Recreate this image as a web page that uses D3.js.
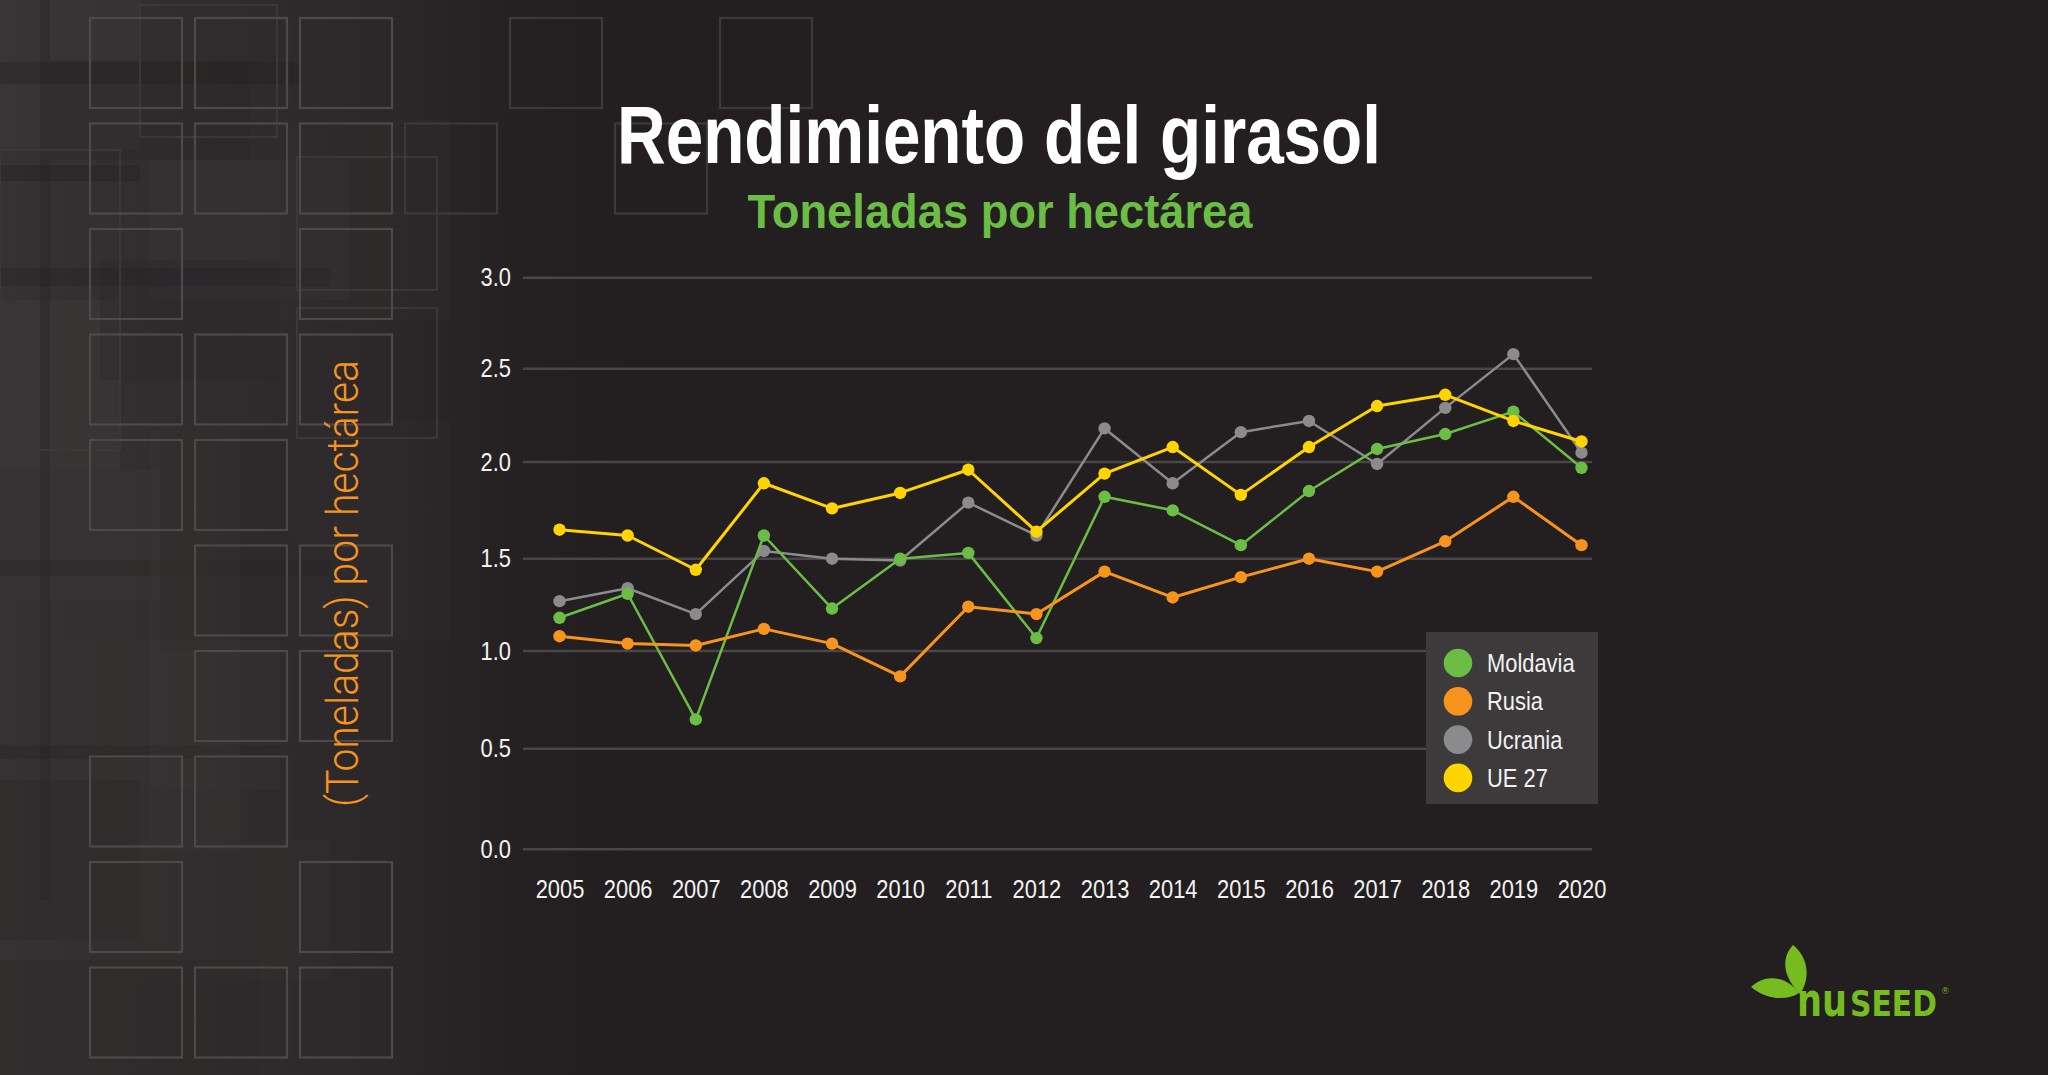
<!DOCTYPE html>
<html>
<head>
<meta charset="utf-8">
<script src="https://cdn.jsdelivr.net/npm/d3@7"></script>
<style>
  html, body { margin: 0; padding: 0; background: #231f20; }
  svg { display: block; }
</style>
</head>
<body>
<svg id="chart" width="2048" height="1075"></svg>
<script>
// ---------------- DATA ----------------
const years = [2005, 2006, 2007, 2008, 2009, 2010, 2011, 2012, 2013, 2014, 2015, 2016, 2017, 2018, 2019, 2020];
const moldavia = [1.18, 1.31, 0.65, 1.62, 1.23, 1.50, 1.53, 1.07, 1.82, 1.75, 1.57, 1.85, 2.07, 2.15, 2.27, 1.97];
const rusia    = [1.08, 1.04, 1.03, 1.12, 1.04, 0.87, 1.24, 1.20, 1.43, 1.29, 1.40, 1.50, 1.43, 1.59, 1.82, 1.57];
const ucrania  = [1.27, 1.34, 1.20, 1.54, 1.50, 1.49, 1.79, 1.62, 2.18, 1.89, 2.16, 2.22, 1.99, 2.29, 2.58, 2.05];
const ue27     = [1.65, 1.62, 1.44, 1.89, 1.76, 1.84, 1.96, 1.64, 1.94, 2.08, 1.83, 2.08, 2.30, 2.36, 2.22, 2.11];
const seriesNames = ["Moldavia", "Rusia", "Ucrania", "UE 27"];
const yTicks = [0, 0.5, 1.0, 1.5, 2.0, 2.5, 3.0];
const titleText = "Rendimiento del girasol";
const subtitleText = "Toneladas por hectárea";
const yAxisTitle = "(Toneladas) por hectárea";

// ---------------- STYLE ----------------
const colors = { "Moldavia": "#6cbd45", "Rusia": "#f7941d", "Ucrania": "#8b8a8d", "UE 27": "#ffd400" };
const widths = { "Moldavia": 2.5, "Rusia": 3, "Ucrania": 2.5, "UE 27": 3 };
const FONT = "'Liberation Sans', Arial, sans-serif";

const svg = d3.select("#chart");
const W = 2048, H = 1075;

function condense(sel, factor) {
  sel.each(function () {
    const w = this.getComputedTextLength();
    this.setAttribute("textLength", w * factor);
    this.setAttribute("lengthAdjust", "spacingAndGlyphs");
  });
}
function fitWidth(sel, width) {
  sel.attr("textLength", width).attr("lengthAdjust", "spacingAndGlyphs");
}
// horizontally scale a text (placed at 0,0 inside group g) so its width equals target
function scaleToWidth(g, textSel, tx, ty, width) {
  const w = textSel.node().getComputedTextLength();
  g.attr("transform", `translate(${tx},${ty}) scale(${width / w},1)`);
}

// ---------------- BACKGROUND ----------------
svg.append("rect").attr("width", W).attr("height", H).attr("fill", "#231f20");

const defs = svg.append("defs");
const grad = defs.append("linearGradient").attr("id", "leftGlow").attr("x1", 0).attr("x2", 1).attr("y1", 0).attr("y2", 0);
grad.append("stop").attr("offset", 0).attr("stop-color", "#363233").attr("stop-opacity", 1);
grad.append("stop").attr("offset", 0.6).attr("stop-color", "#2c2829").attr("stop-opacity", 1);
grad.append("stop").attr("offset", 1).attr("stop-color", "#231f20").attr("stop-opacity", 0);
svg.append("rect").attr("x", 0).attr("y", 0).attr("width", 640).attr("height", H).attr("fill", "url(#leftGlow)");

// mosaic patches (decoration)
const patches = [
  [0, 0, 140, 150, "#3c3839", 0.5], [50, 60, 200, 100, "#2a2627", 0.4], [150, 160, 200, 140, "#3a3637", 0.45],
  [0, 300, 120, 170, "#3d393a", 0.45], [100, 260, 180, 120, "#2a2627", 0.35], [0, 470, 160, 130, "#3a3637", 0.45],
  [160, 430, 130, 220, "#2b2728", 0.4], [60, 640, 220, 150, "#363233", 0.4], [0, 780, 140, 160, "#2c2829", 0.4],
  [130, 840, 200, 140, "#343031", 0.35], [0, 960, 260, 115, "#2b2728", 0.4], [280, 120, 170, 200, "#322e2f", 0.35],
  [300, 420, 150, 220, "#302c2d", 0.35], [0, 62, 300, 22, "#242021", 0.4], [0, 165, 140, 16, "#242021", 0.4],
  [0, 268, 330, 18, "#242021", 0.35], [0, 560, 330, 16, "#242021", 0.3], [0, 745, 280, 14, "#242021", 0.3],
  [40, 0, 10, 900, "#242021", 0.3], [150, 430, 90, 420, "#3a3637", 0.25]
];
svg.append("g").selectAll("rect").data(patches).join("rect")
  .attr("x", d => d[0]).attr("y", d => d[1]).attr("width", d => d[2]).attr("height", d => d[3])
  .attr("fill", d => d[4]).attr("opacity", d => d[5]);

// faint large outlined rectangles (decoration)
const faintRects = [[140, 5, 137, 132], [297, 157, 140, 133], [297, 308, 140, 130], [0, 150, 120, 300]];
svg.append("g").selectAll("rect").data(faintRects).join("rect")
  .attr("x", d => d[0]).attr("y", d => d[1]).attr("width", d => d[2]).attr("height", d => d[3])
  .attr("fill", "none").attr("stroke", "#3b3738").attr("stroke-width", 2);

// outlined squares (decoration)
const squareCells = [
  [0,0],[1,0],[2,0],[4,0],[6,0],
  [0,1],[1,1],[2,1],[3,1],[5,1],
  [0,2],[2,2],
  [0,3],[1,3],[2,3],
  [0,4],[1,4],
  [1,5],[2,5],
  [1,6],[2,6],
  [0,7],[1,7],
  [0,8],[2,8],
  [0,9],[1,9],[2,9]
];
svg.append("g").selectAll("rect").data(squareCells).join("rect")
  .attr("x", d => 90 + d[0] * 105)
  .attr("y", d => 18 + d[1] * 105.5)
  .attr("width", 92).attr("height", 90)
  .attr("fill", "none")
  .attr("stroke", d => d[0] >= 3 ? "#3d393a" : "#4d494a")
  .attr("stroke-width", 2.2);

// ---------------- SCALES ----------------
const x = d3.scaleLinear().domain([years[0], years[years.length - 1]]).range([559.5, 1581.5]);
const y = d3.scaleLinear().domain(yTicks).range([849.3, 748.7, 651, 558.7, 462, 368.7, 277.7]);

// ---------------- GRID ----------------
svg.append("g").selectAll("line").data(yTicks).join("line")
  .attr("x1", 523).attr("x2", 1592)
  .attr("y1", d => y(d)).attr("y2", d => y(d))
  .attr("stroke", "#4a4647").attr("stroke-width", 2.5);

// ---------------- AXES ----------------
const yAxis = svg.append("g").attr("transform", "translate(523,0)")
  .call(d3.axisLeft(y).tickValues(yTicks).tickFormat(d3.format(".1f")).tickSize(0).tickPadding(12));
yAxis.select(".domain").remove();
yAxis.selectAll("text").attr("fill", "#f2f2f2").style("font-family", FONT).style("font-size", "25px");
condense(yAxis.selectAll("text"), 0.875);

const xAxis = svg.append("g").attr("transform", "translate(0,849.3)")
  .call(d3.axisBottom(x).tickValues(years).tickFormat(d3.format("d")).tickSize(0).tickPadding(31));
xAxis.select(".domain").remove();
xAxis.selectAll("text").attr("fill", "#f2f2f2").style("font-family", FONT).style("font-size", "25px");
condense(xAxis.selectAll("text"), 0.875);

// ---------------- SERIES ----------------
const seriesData = {
  "Moldavia": moldavia, "Rusia": rusia, "Ucrania": ucrania, "UE 27": ue27
};
const drawOrder = ["Ucrania", "Moldavia", "Rusia", "UE 27"];
const line = d3.line().x((d, i) => x(years[i])).y(d => y(d));

drawOrder.forEach(name => {
  const vals = seriesData[name];
  const g = svg.append("g");
  g.append("path").datum(vals)
    .attr("d", line)
    .attr("fill", "none")
    .attr("stroke", colors[name])
    .attr("stroke-width", widths[name])
    .attr("stroke-linejoin", "round");
  g.selectAll("circle").data(vals).join("circle")
    .attr("cx", (d, i) => x(years[i]))
    .attr("cy", d => y(d))
    .attr("r", 6.2)
    .attr("fill", colors[name]);
});

// ---------------- LEGEND ----------------
const legend = svg.append("g");
legend.append("rect").attr("x", 1426).attr("y", 632).attr("width", 172).attr("height", 172).attr("fill", "#3c3a3b");
const li = legend.selectAll("g.item").data(seriesNames).join("g").attr("class", "item")
  .attr("transform", (d, i) => `translate(1458,${663 + i * 38.3})`);
li.append("circle").attr("r", 14.3).attr("fill", d => colors[d]);
const lt = li.append("text").attr("x", 29).attr("dy", "0.36em")
  .attr("fill", "#f2f2f2").style("font-family", FONT).style("font-size", "25px").text(d => d);
condense(lt, 0.875);

// ---------------- TITLES ----------------
const t1 = svg.append("text").attr("x", 999).attr("y", 163).attr("text-anchor", "middle")
  .attr("fill", "#ffffff").style("font-family", FONT).style("font-weight", "bold").style("font-size", "82px")
  .text(titleText);
fitWidth(t1, 764);

const t2 = svg.append("text").attr("x", 1000).attr("y", 228).attr("text-anchor", "middle")
  .attr("fill", "#6cbd45").style("font-family", FONT).style("font-weight", "bold").style("font-size", "48px")
  .text(subtitleText);
fitWidth(t2, 505);

const yt = svg.append("text").attr("transform", "translate(358,583.5) rotate(-90)").attr("text-anchor", "middle")
  .attr("fill", "#f7941d").style("font-family", "Roboto, " + FONT).style("font-weight", "300").style("font-size", "44px")
  .text(yAxisTitle);
fitWidth(yt, 447);

// ---------------- LOGO ----------------
const logo = svg.append("g");
const logoGreen = "#76bc21";
logo.append("path")
  .attr("d", "M1800,994 C1784,978 1780,959 1793,945 C1808,957 1811,978 1800,994 Z")
  .attr("fill", logoGreen);
logo.append("path")
  .attr("d", "M1799,993 C1786,976 1765,973 1751,987 C1766,1000 1787,1001 1799,993 Z")
  .attr("fill", logoGreen);
const logoFont = "'DejaVu Sans', sans-serif";
const nuG = logo.append("g");
const nu = nuG.append("text").attr("x", 0).attr("y", 0)
  .attr("fill", logoGreen).style("font-family", logoFont).style("font-weight", "bold")
  .style("font-size", "46px").text("nu");
scaleToWidth(nuG, nu, 1797, 1016, 50);
const seedG = logo.append("g");
const seed = seedG.append("text").attr("x", 0).attr("y", 0)
  .attr("fill", logoGreen).style("font-family", logoFont).style("font-weight", "bold")
  .style("font-size", "36px").text("SEED");
scaleToWidth(seedG, seed, 1850, 1016, 87);
logo.append("text").attr("x", 1942).attr("y", 994).attr("fill", logoGreen)
  .style("font-family", FONT).style("font-size", "9px").text("®");
</script>
</body>
</html>
